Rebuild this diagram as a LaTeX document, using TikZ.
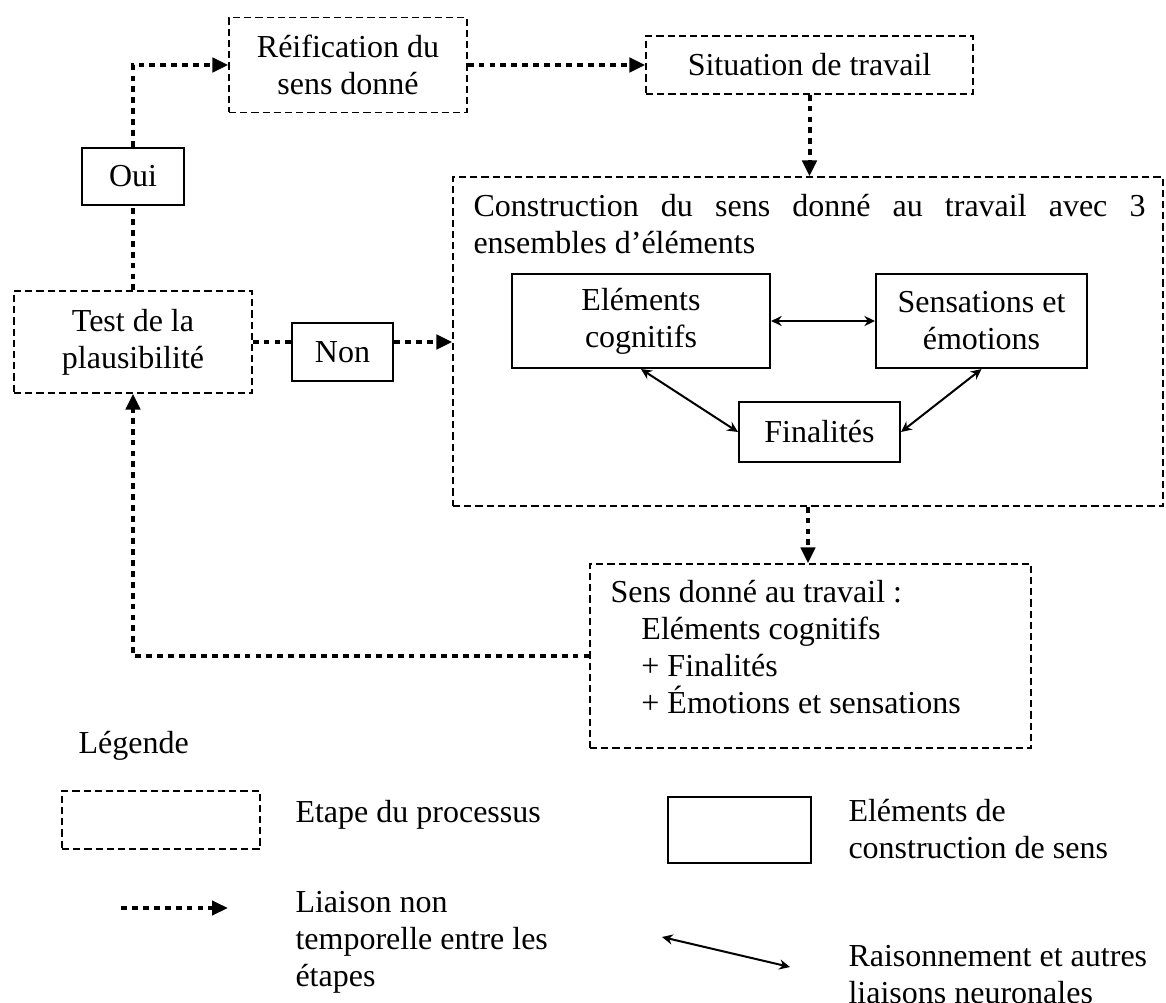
\documentclass[tikz,border=0pt]{standalone}
\usepackage{fontspec}
\setmainfont{Liberation Serif}
\usetikzlibrary{arrows.meta}

\begin{document}
\begin{tikzpicture}[x=0.375pt,y=-0.375pt,font=\fontsize{12}{13.9}\selectfont,
    etape/.style={draw,dash pattern=on 2.7pt off 1.5pt,line width=.45pt,align=center,inner sep=0pt},
    elem/.style={draw,line width=.75pt,align=center,inner sep=0pt},
    liaison/.style={line width=1.5pt,dash pattern=on 2.2pt off 1.9pt,arrows={-Triangle[length=6pt,width=5.3pt]}},
    raison/.style={draw,line width=.75pt,arrows={Stealth[length=4pt,width=3.8pt,inset=1.3pt]-Stealth[length=4pt,width=3.8pt,inset=1.3pt]}}]

        \useasboundingbox (0,0) rectangle (1166,1003);

        \begin{scope}[every node/.style={etape}]
          \node[minimum width=89.3pt,minimum height=35.6pt]  (reif)      at (348,65)     {Réification du\\sens donné};
          \node[minimum width=122.6pt,minimum height=21.8pt] (sit)       at (809.5,65)   {Situation de travail};
          \node[minimum width=89.3pt,minimum height=38.3pt]  (test)      at (133,342)    {Test de la\\plausibilité};
          \node[minimum width=266.3pt,minimum height=123.4pt] (constr)   at (808,341.5)  {};
          \node[minimum width=165.4pt,minimum height=69pt]   (sensdonne) at (810.5,656)  {};
          \node[minimum width=74.3pt,minimum height=21.8pt]  (legetape)  at (161,820)    {};
        \end{scope}

        \begin{scope}[every node/.style={elem}]
          \node[minimum width=37.9pt,minimum height=21.4pt] (oui)     at (133,176.5)  {Oui};
          \node[minimum width=37.9pt,minimum height=21.8pt] (non)     at (342.5,352)  {Non};
          \node[minimum width=96.8pt,minimum height=35.3pt] (cogn)    at (641,321)    {Eléments\\cognitifs};
          \node[minimum width=79.1pt,minimum height=35.3pt] (sensa)   at (981.5,321)  {Sensations et\\émotions};
          \node[minimum width=60.4pt,minimum height=22.5pt] (fin)     at (819.5,432)  {Finalités};
          \node[minimum width=53.6pt,minimum height=24.8pt] (legelem) at (739.5,830)  {};
        \end{scope}

        \begin{scope}[every node/.style={inner sep=0pt}]
          \node[anchor=north west,text width=252pt,align=justify] (constrtxt) at (473,194)
            {Construction du sens donné au travail avec 3\linebreak ensembles d’éléments};
          \node[anchor=north west,align=left] (sensdonnetxt) at (610,580)
            {Sens donné au travail :\\\hspace*{11.6pt}Eléments cognitifs\\\hspace*{11.6pt}+ Finalités\\\hspace*{11.6pt}+ Émotions et sensations};
          \node[anchor=base west] (legende) at (78,753) {Légende};
          \node[anchor=west] (legetapetxt) at (295,815) {Etape du processus};
          \node[anchor=west,align=left] (legelemtxt) at (848,829) {Eléments de\\construction de sens};
          \node[anchor=west,align=left] (legliaisontxt) at (295,942) {Liaison non\\temporelle entre les\\étapes};
          \node[anchor=west,align=left] (legraisontxt) at (848,975) {Raisonnement et autres\\liaisons neuronales};
        \end{scope}

        \coordinate (legl1) at (121,908);
        \coordinate (legl2) at (228,908);
        \coordinate (legr1) at (662,937);
        \coordinate (legr2) at (790,967);

        % liaisons entre les etapes
        \draw[liaison,-] (test) -- (oui);
        \draw[liaison] (oui) |- (reif);
        \draw[liaison] (reif) -- (sit);
        \draw[liaison] (sit.south) -- (sit.south |- constr.north);
        \draw[liaison,-] (test.east) -- (test.east -| non.west);
        \draw[liaison] (test.east -| non.east) -- (test.east -| constr.west);
        \draw[liaison] (constr.south) -- (constr.south |- sensdonne.north);
        \draw[liaison] (sensdonne.west) -| (test.south);
        \draw[liaison] (legl1) -- (legl2);

        % raisonnements
        \path (cogn)       edge[raison] (sensa);
        \path (cogn.south) edge[raison] (fin.west);
        \path (sensa.south) edge[raison] (fin.east);
        \path (legr1)      edge[raison] (legr2);

      \end{tikzpicture}
\end{document}
